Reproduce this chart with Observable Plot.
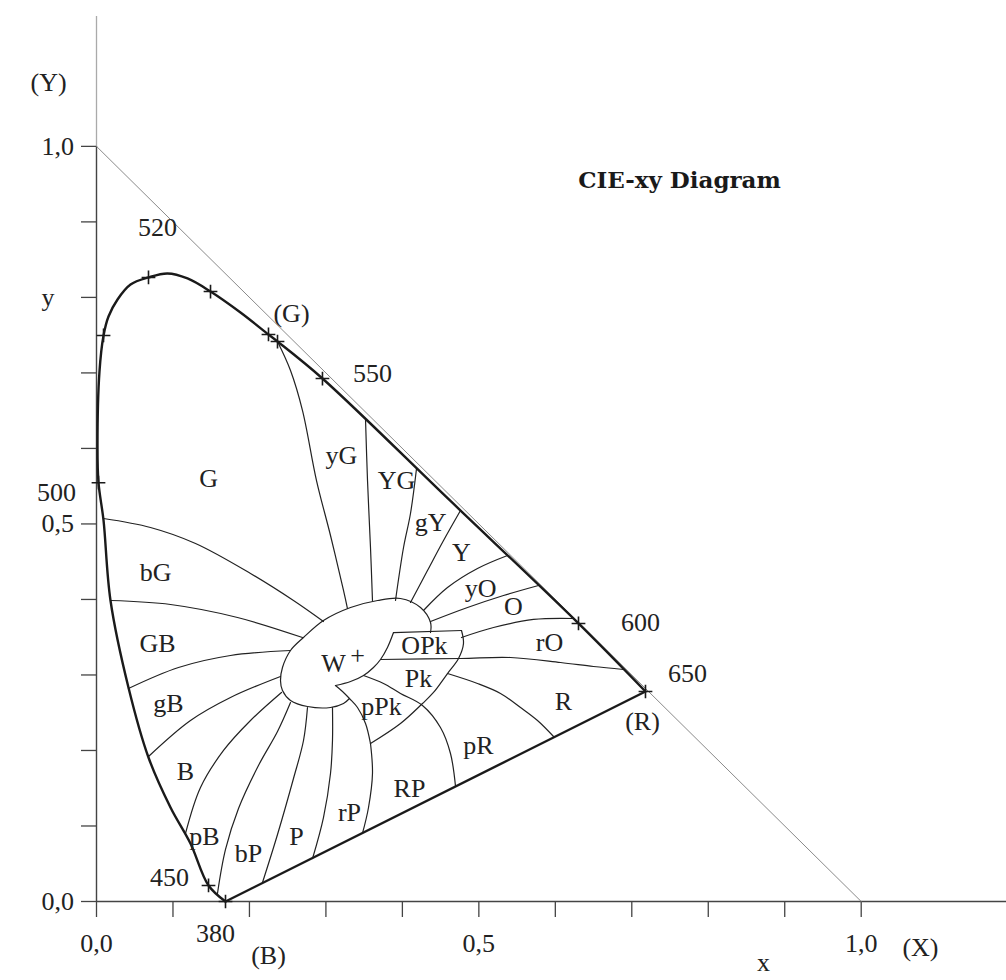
<!DOCTYPE html>
<html>
<head>
<meta charset="utf-8">
<script src="https://cdn.jsdelivr.net/npm/d3@7"></script>
<script src="https://cdn.jsdelivr.net/npm/@observablehq/plot@0.6"></script>
<style>
  html, body { margin: 0; padding: 0; background: #fff; }
  #chart { width: 1006px; height: 980px; overflow: hidden; }
</style>
</head>
<body>
<div id="chart"></div>
<script>
// ---------- data (CIE 1931 chromaticity coordinates) ----------
// spectral locus: [x, y, marker label]
const locus = [
  [0.1687, 0.0000, "380"],
  [0.1465, 0.0212, "450"],
  [0.1229, 0.0768, ""],
  [0.0968, 0.1245, ""],
  [0.0680, 0.1907, ""],
  [0.0418, 0.2834, ""],
  [0.0183, 0.3986, ""],
  [0.0092, 0.5046, ""],
  [0.0026, 0.5546, "500"],
  [0.0013, 0.6012, ""],
  [0.0039, 0.7019, ""],
  [0.0092, 0.7496, "510"],
  [0.0157, 0.7747, ""],
  [0.0275, 0.7972, ""],
  [0.0445, 0.8170, ""],
  [0.0680, 0.8264, "520"],
  [0.0928, 0.8317, ""],
  [0.1190, 0.8251, ""],
  [0.1491, 0.8078, "530"],
  [0.1883, 0.7800, ""],
  [0.2249, 0.7509, "540"],
  [0.2367, 0.7416, "G"],
  [0.2955, 0.6926, "550"],
  [0.4629, 0.5304, ""],
  [0.6303, 0.3682, "600"],
  [0.7179, 0.2781, "650"]
];
// line of purples (380 -> 650)
const purpleLine = [[0.1687, 0.0000], [0.7179, 0.2781]];
// x + y = 1 reference line
const diagonal = [[0, 1], [1, 0]];

// hue-region boundaries
const bGyG   = [[0.2367,0.7416],[0.2537,0.7032],[0.2694,0.6502],[0.2877,0.5575],[0.3060,0.4847],[0.3230,0.4119],[0.3282,0.3880]];
const byGYG  = [[0.3518,0.6383],[0.3544,0.5575],[0.3583,0.4688],[0.3609,0.3986]];
const bYGgY  = [[0.4185,0.5734],[0.4106,0.5138],[0.4015,0.4688],[0.3910,0.3986]];
const bgYY   = [[0.4760,0.5178],[0.4538,0.4781],[0.4328,0.4383],[0.4106,0.3960]];
const bYyO   = [[0.5375,0.4582],[0.4982,0.4410],[0.4590,0.4158],[0.4276,0.3854]];
const byOO   = [[0.5780,0.4185],[0.5322,0.4052],[0.4852,0.3893],[0.4368,0.3708]];
const bOrO   = [[0.6238,0.3748],[0.5715,0.3735],[0.5192,0.3628],[0.4773,0.3496]];
const brOR   = [[0.3714,0.3205],[0.4760,0.3218],[0.5414,0.3231],[0.6068,0.3165],[0.6499,0.3112],[0.6892,0.3072]];
const bpRR   = [[0.4590,0.3019],[0.4982,0.2887],[0.5283,0.2755],[0.5545,0.2569],[0.5767,0.2397],[0.5989,0.2172]];
const bRPpR  = [[0.3492,0.2993],[0.3753,0.2887],[0.3975,0.2755],[0.4263,0.2596],[0.4498,0.2304],[0.4629,0.1960],[0.4695,0.1523]];
const brPRP  = [[0.3583,0.2092],[0.3609,0.1695],[0.3557,0.1245],[0.3478,0.0901]];
const bPrP   = [[0.2825,0.0569],[0.2968,0.1112],[0.3060,0.1695],[0.3086,0.2132],[0.3086,0.2569]];
const bbPP   = [[0.2171,0.0252],[0.2367,0.0887],[0.2576,0.1629],[0.2707,0.2132],[0.2759,0.2569]];
const bpBbP  = [[0.1582,0.0106],[0.1687,0.0689],[0.1857,0.1232],[0.2118,0.1801],[0.2367,0.2251],[0.2537,0.2635]];
const bBpB   = [[0.1164,0.0901],[0.1360,0.1510],[0.1661,0.2000],[0.2014,0.2397],[0.2419,0.2768]];
const bgBB   = [[0.0680,0.1920],[0.1229,0.2397],[0.1752,0.2702],[0.2406,0.2980]];
const bGBgB  = [[0.0418,0.2821],[0.1072,0.3099],[0.1752,0.3258],[0.2537,0.3324]];
const bbGGB  = [[0.0190,0.3986],[0.0968,0.3933],[0.1844,0.3761],[0.2694,0.3496]];
const bGbG   = [[0.0092,0.5072],[0.0706,0.4953],[0.1295,0.4741],[0.2014,0.4344],[0.2576,0.3986],[0.2968,0.3708]];
// white region and pink regions
const whiteOutline = [[0.4368,0.3562],[0.4368,0.3695],[0.4237,0.3893],[0.3975,0.4013],[0.3675,0.3986],[0.3322,0.3893],
  [0.2968,0.3721],[0.2707,0.3496],[0.2537,0.3324],[0.2432,0.3099],[0.2406,0.2927],[0.2432,0.2794],[0.2537,0.2662],
  [0.2759,0.2582],[0.3060,0.2569],[0.3230,0.2622],[0.3308,0.2688]];
const whiteInner = [[0.3125,0.2860],[0.3322,0.2913],[0.3492,0.2993],[0.3622,0.3099],[0.3714,0.3205],[0.3805,0.3364],[0.3884,0.3562]];
const pPkEdge = [[0.3125,0.2860],[0.3217,0.2781],[0.3308,0.2688],[0.3413,0.2569],[0.3518,0.2357],[0.3583,0.2092]];
const pinkOuter = [[0.4773,0.3589],[0.4799,0.3417],[0.4734,0.3218],[0.4590,0.3019],[0.4407,0.2768],[0.4263,0.2622],[0.3975,0.2357],[0.3583,0.2092]];
const OPkTop = [[0.3884,0.3562],[0.4773,0.3589]];

// region labels: [name, x, y]
const regionLabels = [
  ["G",0.1465,0.5602],["yG",0.3204,0.5906],["YG",0.3923,0.5575],["gY",0.4368,0.5019],["Y",0.4773,0.4622],
  ["yO",0.5022,0.4145],["O",0.5453,0.3907],["rO",0.5924,0.3430],["OPk",0.4289,0.3390],["Pk",0.4211,0.2953],
  ["pPk",0.3727,0.2582],["pR",0.4995,0.2066],["RP",0.4093,0.1496],["R",0.6107,0.2649],["rP",0.3308,0.1179],
  ["P",0.2615,0.0861],["bP",0.1988,0.0636],["pB",0.1412,0.0861],["B",0.1164,0.1722],["gB",0.0942,0.2622],
  ["GB",0.0798,0.3417],["bG",0.0772,0.4357],["W",0.3099,0.3152],["+",0.3413,0.3258]
];
// wavelength / primary labels: [text, x, y]
const locusLabels = [
  ["520",0.0798,0.8926],["(G)",0.2550,0.7787],["550",0.3609,0.6992],["600",0.7114,0.3695],
  ["650",0.7728,0.3019],["(R)",0.7140,0.2384],["450",0.0955,0.0318],["380",0.1556,-0.0424],
  ["(B)",0.2249,-0.0715],["500",-0.0523,0.5416]
];
const tickValues = [0, 0.1, 0.2, 0.3, 0.4, 0.5, 0.6, 0.7, 0.8, 0.9, 1.0];
const yTickLabels = [[0, "0,0"], [0.5, "0,5"], [0.8, "y"], [1, "1,0"]];
const xTickLabels = [[0, "0,0"], [0.5, "0,5"], [1, "1,0"]];
const title = "CIE-xy Diagram";

// ---------- build ----------
const boundaries = [bGyG, byGYG, bYGgY, bgYY, bYyO, byOO, bOrO, brOR, bpRR, bRPpR, brPRP, bPrP, bbPP,
  bpBbP, bBpB, bgBB, bGBgB, bbGGB, bGbG, whiteOutline, whiteInner, pPkEdge, pinkOuter];
const boundaryRows = boundaries.flatMap((pts, i) => pts.map(([x, y]) => ({x, y, id: i})));
const locusRows = locus.map(([x, y, m]) => ({x, y, m}));
const markerRows = locusRows.filter(d => d.m !== "");
const toXY = (arr) => arr.map(([x, y]) => ({x, y}));

const ink = "#222";
const serif = "'Liberation Serif', 'DejaVu Serif', serif";
const fs = 26;

const chart = Plot.plot({
  width: 1006,
  height: 980,
  marginLeft: 96,
  marginRight: 0,
  marginTop: 16,
  marginBottom: 79,
  x: {domain: [0, 1.19], axis: null},
  y: {domain: [0, 1.172], axis: null},
  style: {fontFamily: serif, fontSize: "26px", color: ink, background: "#fff"},
  marks: [
    // axes lines
    Plot.ruleX([0], {stroke: "#aaa", strokeWidth: 1.3}),
    Plot.ruleX([0], {y1: 0, y2: 1, stroke: "#444", strokeWidth: 1.3}),
    Plot.ruleY([0], {stroke: "#444", strokeWidth: 1.3}),
    Plot.axisX({ticks: tickValues, tickSize: 16, tickFormat: () => "", label: null, stroke: "#444", strokeWidth: 1.3}),
    Plot.axisY({ticks: tickValues, tickSize: 15, tickFormat: () => "", label: null, stroke: "#444", strokeWidth: 1.3}),
    // diagonal x + y = 1
    Plot.line(toXY(diagonal), {x: "x", y: "y", stroke: "#8a8a8a", strokeWidth: 1}),
    // hue boundaries
    Plot.line(boundaryRows, {x: "x", y: "y", z: "id", curve: "catmull-rom", stroke: ink, strokeWidth: 1.2}),
    Plot.line(toXY(OPkTop), {x: "x", y: "y", stroke: ink, strokeWidth: 1.2}),
    // spectral locus and purple line
    Plot.line(locusRows, {x: "x", y: "y", curve: "catmull-rom", stroke: "#1a1a1a", strokeWidth: 2.4}),
    Plot.line(toXY(purpleLine), {x: "x", y: "y", stroke: "#1a1a1a", strokeWidth: 2.4}),
    Plot.dot(markerRows, {x: "x", y: "y", symbol: "plus", r: 4.5, stroke: "#1a1a1a", strokeWidth: 1.6}),
    // labels
    Plot.text(regionLabels, {x: d => d[1], y: d => d[2], text: d => d[0], fill: ink, fontSize: fs}),
    Plot.text(locusLabels, {x: d => d[1], y: d => d[2], text: d => d[0], fill: ink, fontSize: fs}),
    Plot.text(yTickLabels, {frameAnchor: "left", y: d => d[0], text: d => d[1], dx: -55, fill: ink, fontSize: fs}),
    Plot.text(xTickLabels, {frameAnchor: "bottom", x: d => d[0], text: d => d[1], dy: 50, fill: ink, fontSize: fs}),
    Plot.text(["(Y)"], {frameAnchor: "top-left", text: d => d, dx: -66, dy: 56, fill: ink, fontSize: fs}),
    Plot.text(["(X)"], {frameAnchor: "bottom", x: () => 1.0775, text: d => d, dy: 54, fill: ink, fontSize: fs}),
    Plot.text(["x"], {frameAnchor: "bottom", x: () => 0.8722, text: d => d, dy: 69, fill: ink, fontSize: fs}),
    Plot.text([title], {x: () => 0.7624, y: () => 0.9548, text: d => d, fill: "#1a1a1a", fontSize: 23,
      fontWeight: "bold", fontFamily: "'DejaVu Serif', serif", letterSpacing: "-0.6px"})
  ]
});
document.getElementById("chart").appendChild(chart);
</script>
</body>
</html>
